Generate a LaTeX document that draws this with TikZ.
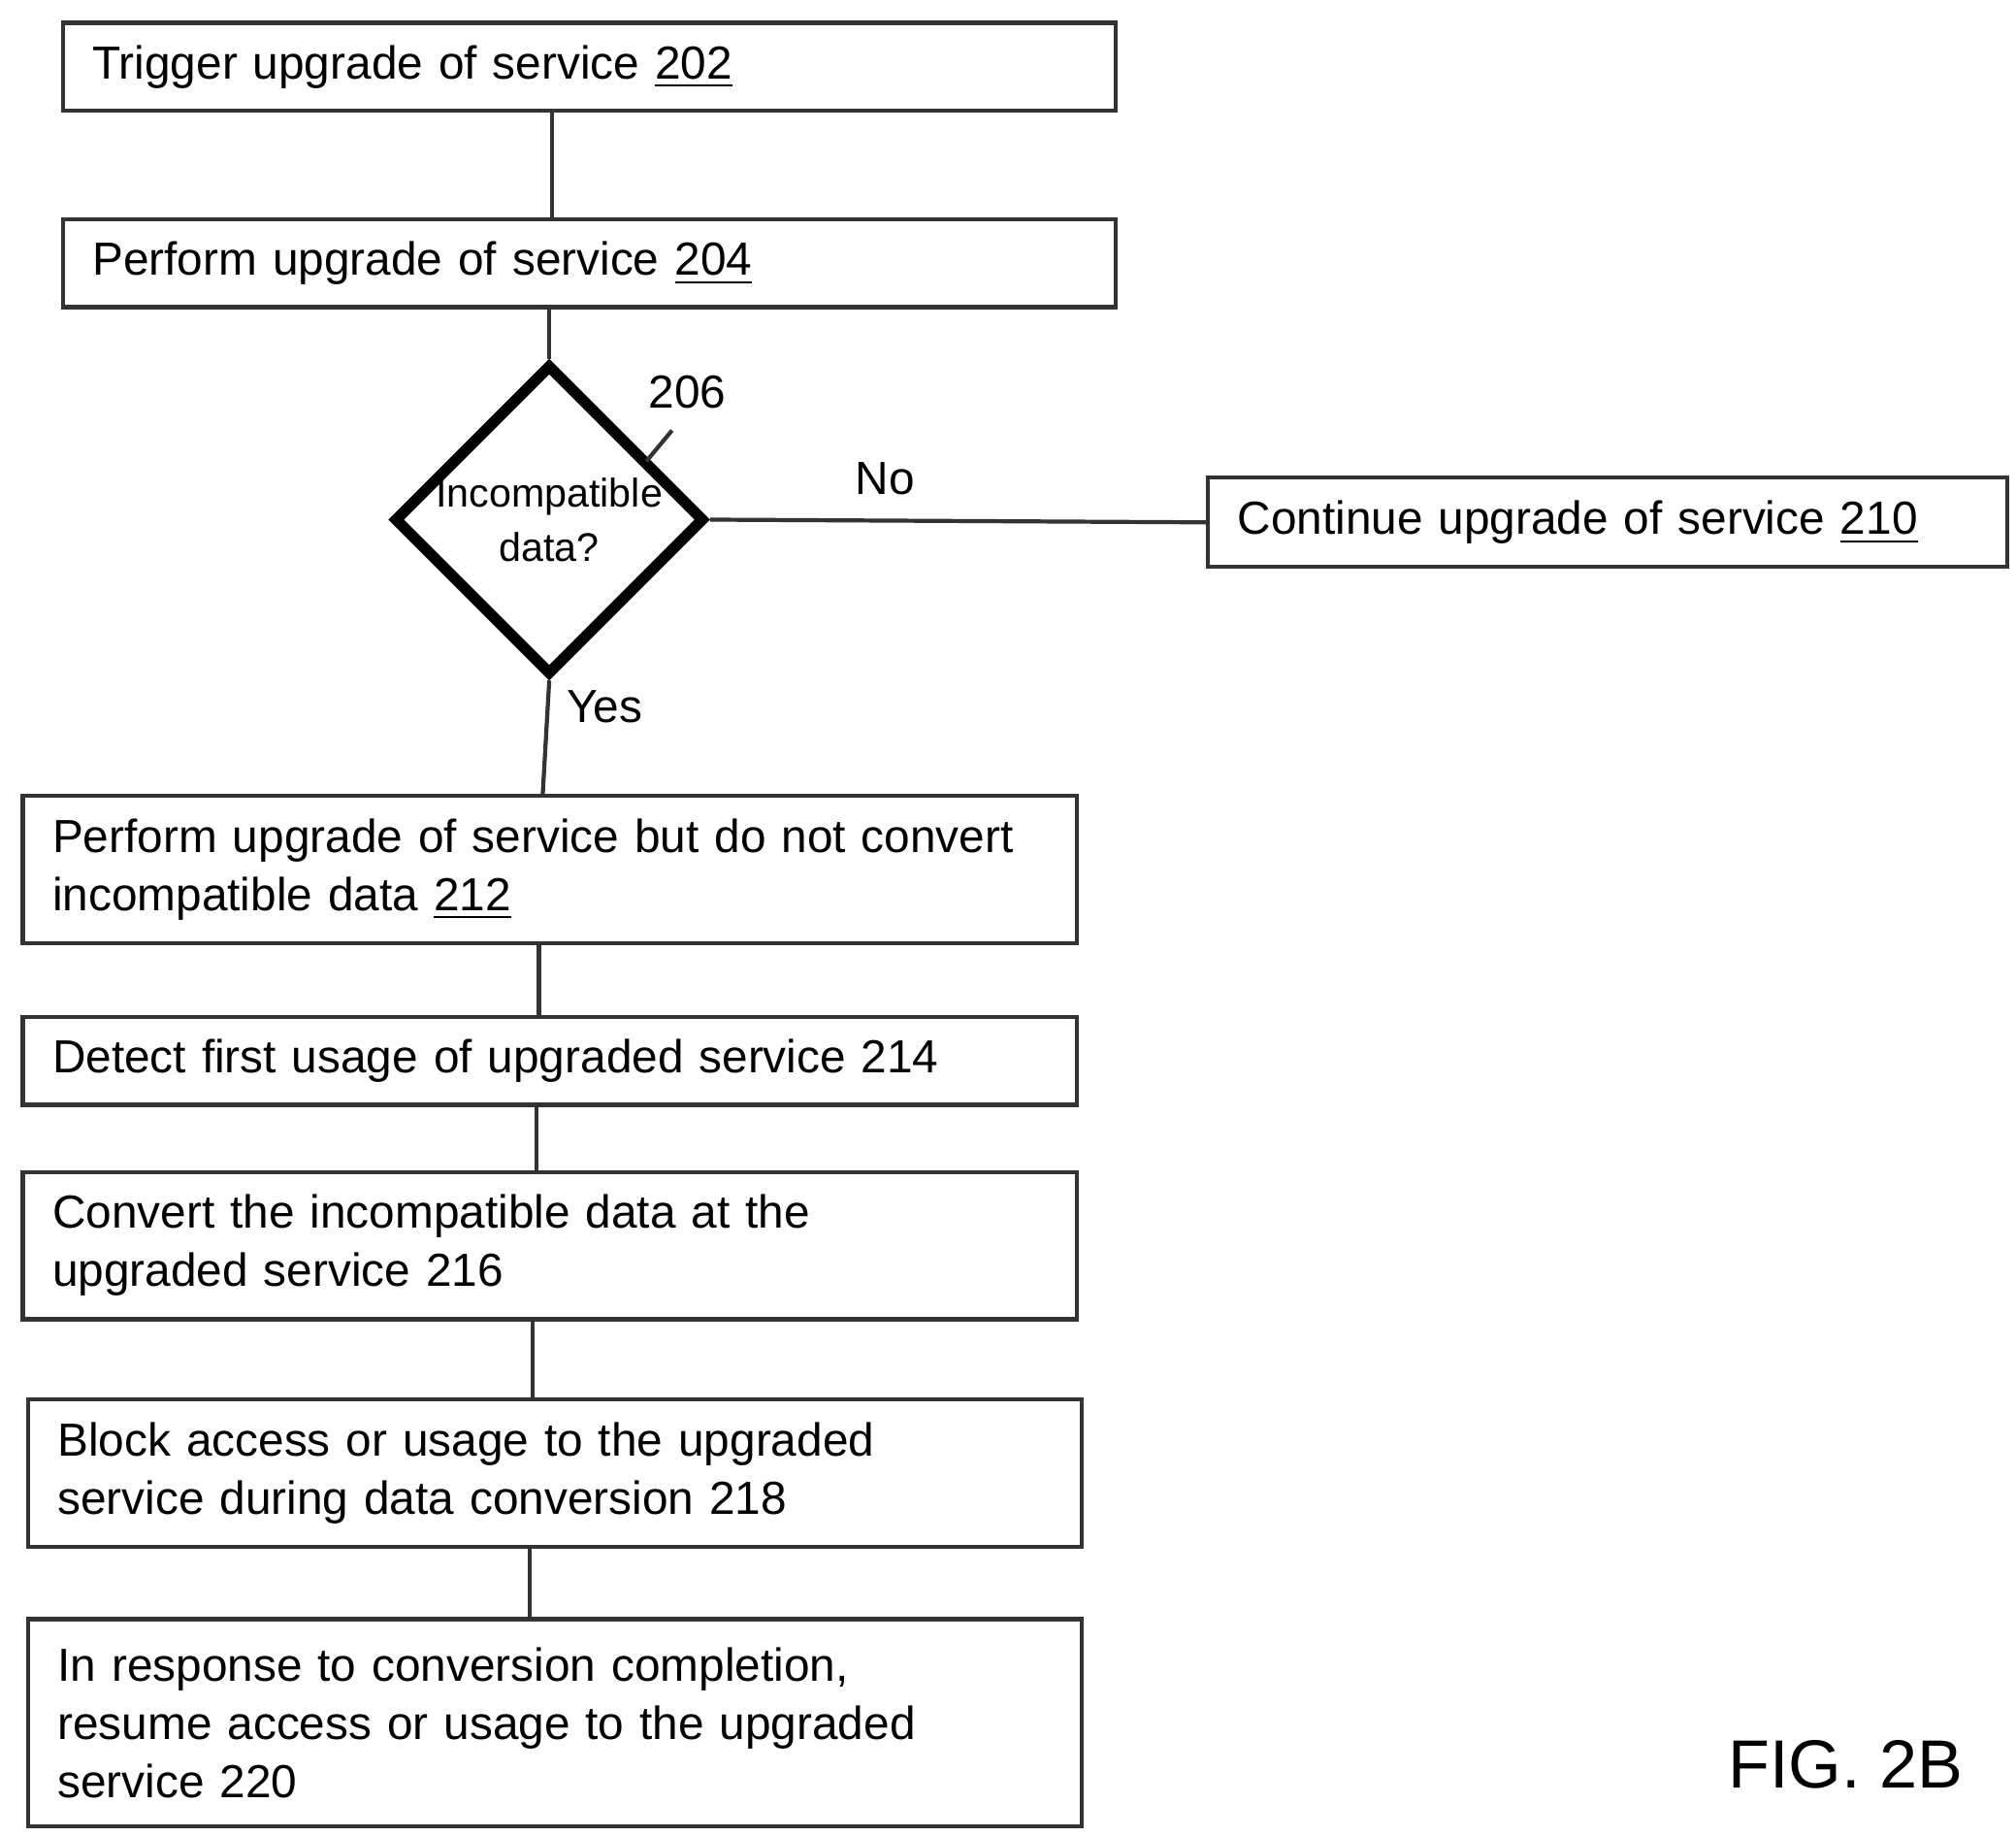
\documentclass[tikz,border=0pt]{standalone}
\usepackage{fontspec}
\setmainfont{Liberation Sans}
\usetikzlibrary{shapes.geometric}
\begin{document}
\begin{tikzpicture}[x=0.01cm,y=-0.01cm,
  box/.style={draw=black!80,line width=0.9pt,rectangle,inner xsep=0.23cm,inner ysep=0pt,align=left,anchor=north west,font=\fontsize{10.2}{12.8}\selectfont},
  lbl/.style={font=\fontsize{10.2}{12.8}\selectfont},
  conn/.style={draw=black!80,line width=0.9pt}]
\useasboundingbox (0,0) rectangle (1560,1421);
\node[box,minimum width=8.14cm,minimum height=0.68cm,text width=7.68cm] (b202) at (47,16) {Trigger upgrade of service \underline{202}};
\node[box,minimum width=8.14cm,minimum height=0.68cm,text width=7.68cm] (b204) at (47,168) {Perform upgrade of service \underline{204}};
\node[diamond,draw=black,line width=2.4pt,minimum width=2.34cm,minimum height=2.3cm,inner sep=0pt,align=center,font=\fontsize{8.8}{12}\selectfont] (d206) at (425,402) {Incompatible\\data?};
\node[lbl] (n206) at (532,303) {206};
\draw[conn] (520,333) -- (500,357);
\node[box,minimum width=6.18cm,minimum height=0.69cm,text width=5.72cm] (b210) at (933,368) {Continue upgrade of service \underline{210}};
\node[box,minimum width=8.15cm,minimum height=1.14cm,text width=7.69cm] (b212) at (16,614) {Perform upgrade of service but do not convert incompatible data \underline{212}};
\node[box,minimum width=8.15cm,minimum height=0.68cm,text width=7.69cm] (b214) at (16,785) {Detect first usage of upgraded service 214};
\node[box,minimum width=8.15cm,minimum height=1.14cm,text width=7.69cm] (b216) at (16,905) {Convert the incompatible data at the\\upgraded service 216};
\node[box,minimum width=8.15cm,minimum height=1.14cm,text width=7.69cm] (b218) at (20,1081) {Block access or usage to the upgraded\\service during data conversion 218};
\node[box,minimum width=8.15cm,minimum height=1.6cm,text width=7.69cm] (b220) at (20,1251) {In response to conversion completion,\\resume access or usage to the upgraded\\service 220};
\node[font=\fontsize{15}{18}\selectfont] (fig) at (1428,1365) {FIG. 2B};
\node[lbl] (no) at (685,370) {No};
\node[lbl] (yes) at (468,547) {Yes};
\draw[conn] (b202.south-|427,0) -- (b204.north-|427,0);
\draw[conn] (b204.south-|425,0) -- (d206.north);
\draw[conn] (d206.east) -- (b210.west);
\draw[conn] (d206.south) -- (b212.north-|420,0);
\draw[conn] (b212.south-|417,0) -- (b214.north-|417,0);
\draw[conn] (b214.south-|415,0) -- (b216.north-|415,0);
\draw[conn] (b216.south-|412,0) -- (b218.north-|412,0);
\draw[conn] (b218.south-|410,0) -- (b220.north-|410,0);
\end{tikzpicture}
\end{document}
